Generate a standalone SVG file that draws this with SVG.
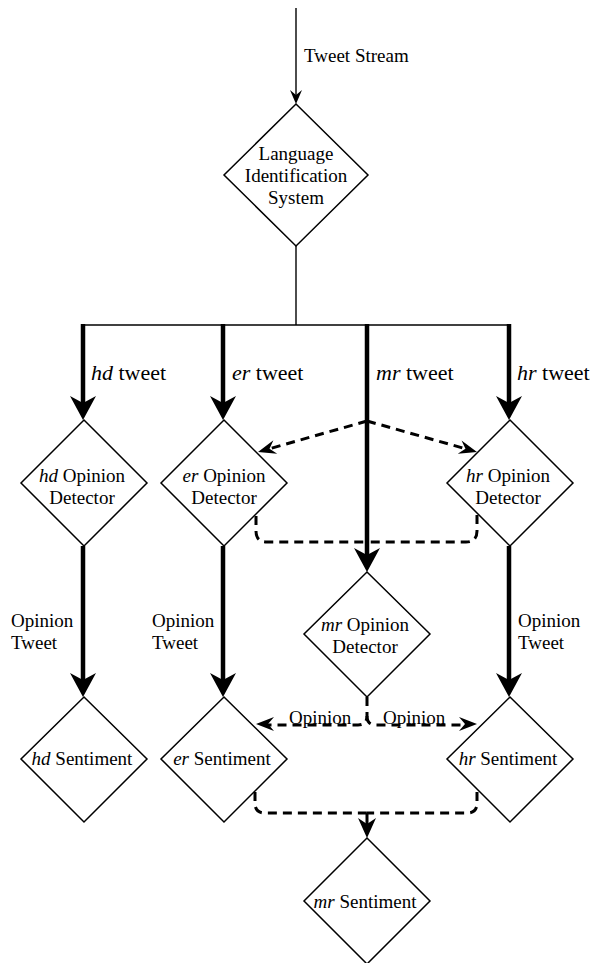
<svg xmlns="http://www.w3.org/2000/svg" xmlns:xlink="http://www.w3.org/1999/xlink" width="593" height="963" viewBox="0 0 593 963">
<style>
text{font-family:'Liberation Serif','DejaVu Serif',serif;font-size:19px;fill:#000}
.big{font-size:22px}
.m{text-anchor:middle}
.it{font-style:italic}
.node{fill:#fff;stroke:#000;stroke-width:1.5}
.thin{fill:none;stroke:#000;stroke-width:1.4}
.thick{fill:none;stroke:#000;stroke-width:4.5}
.dash{fill:none;stroke:#000;stroke-width:3;stroke-dasharray:9 6}
.ah{fill:#000;stroke:none}
</style>
<defs>
<path id="dArrow" d="M0,0 L-18,-7 L-12,0 L-18,7 Z"/>
</defs>
<rect width="593" height="963" fill="#fff"/>
<g id="connectors">
<line class="thin" x1="296" y1="8" x2="296" y2="97"/>
<path class="ah" d="M296,104 L290,90 L296,95 L302,90 Z"/>
<line class="thin" x1="296" y1="246" x2="296" y2="325"/>
<line class="thin" x1="81" y1="325" x2="511" y2="325"/>
<line class="thick" x1="83" y1="324" x2="83" y2="405"/>
<line class="thick" x1="223" y1="324" x2="223" y2="405"/>
<line class="thick" x1="367" y1="324" x2="367" y2="557"/>
<line class="thick" x1="509" y1="324" x2="509" y2="405"/>
<path class="ah" d="M83,420 L70,396 L83,403 L96,396 Z"/>
<path class="ah" d="M223,420 L210,396 L223,403 L236,396 Z"/>
<path class="ah" d="M509,420 L496,396 L509,403 L522,396 Z"/>
<path class="ah" d="M367,572 L354,548 L367,555 L380,548 Z"/>
<line class="thick" x1="83" y1="546" x2="83" y2="685"/>
<line class="thick" x1="223" y1="546" x2="223" y2="685"/>
<line class="thick" x1="509" y1="546" x2="509" y2="685"/>
<path class="ah" d="M83,697 L70,673 L83,680 L96,673 Z"/>
<path class="ah" d="M223,697 L210,673 L223,680 L236,673 Z"/>
<path class="ah" d="M509,697 L496,673 L509,680 L522,673 Z"/>
<path class="dash" d="M367,421 L270,448.6"/>
<path class="dash" d="M367,421 L465,448.6"/>
<use xlink:href="#dArrow" class="ah" transform="translate(258,452) rotate(164.1)"/>
<use xlink:href="#dArrow" class="ah" transform="translate(477,452) rotate(15.7)"/>
<path class="dash" d="M256,516 V531 Q256,542 267,542 H367"/>
<path class="dash" d="M477,515 V531 Q477,542 466,542 H367"/>
<path class="dash" d="M367,697 V716 Q367,725 358,725 H268"/>
<path class="dash" d="M367,716 Q367,725 376,725 H465"/>
<use xlink:href="#dArrow" class="ah" transform="translate(256,724) rotate(180)"/>
<use xlink:href="#dArrow" class="ah" transform="translate(477,724)"/>
<path class="dash" d="M255,792 V803 Q255,813 265,813 H367"/>
<path class="dash" d="M477,792 V803 Q477,813 467,813 H367"/>
<line class="thin" x1="367" y1="813" x2="367" y2="825" style="stroke-width:3"/>
<path class="ah" d="M367,838 L358,818 L367,824 L376,818 Z"/>
<text x="304" y="62">Tweet Stream</text>
<text class="big" x="91" y="380"><tspan class="it">hd</tspan> tweet</text>
<text class="big" x="232" y="380"><tspan class="it">er</tspan> tweet</text>
<text class="big" x="376" y="380"><tspan class="it">mr</tspan> tweet</text>
<text class="big" x="517" y="380"><tspan class="it">hr</tspan> tweet</text>
<text x="11" y="627">Opinion</text>
<text x="11" y="649">Tweet</text>
<text x="152" y="627">Opinion</text>
<text x="152" y="649">Tweet</text>
<text x="518" y="627">Opinion</text>
<text x="518" y="649">Tweet</text>
<text x="289" y="724">Opinion</text>
<text x="383" y="724">Opinion</text>
</g>
<g id="lang">
<path class="node" d="M296,104 L368,175 L296,246 L224,175 Z"/>
<text class="m" x="296" y="160">Language</text>
<text class="m" x="296" y="182">Identification</text>
<text class="m" x="296" y="204">System</text>
</g>
<g id="hd-detector">
<path class="node" d="M84,420 L147,483 L84,546 L21,483 Z"/>
<text class="m" x="82" y="482"><tspan class="it">hd</tspan> Opinion</text>
<text class="m" x="82" y="504">Detector</text>
</g>
<g id="er-detector">
<path class="node" d="M224,420 L287,483 L224,546 L161,483 Z"/>
<text class="m" x="224" y="482"><tspan class="it">er</tspan> Opinion</text>
<text class="m" x="224" y="504">Detector</text>
</g>
<g id="hr-detector">
<path class="node" d="M510,420 L573,483 L510,546 L447,483 Z"/>
<text class="m" x="508" y="482"><tspan class="it">hr</tspan> Opinion</text>
<text class="m" x="508" y="504">Detector</text>
</g>
<g id="mr-detector">
<path class="node" d="M367,572 L430,634 L367,697 L304,634 Z"/>
<text class="m" x="365" y="631"><tspan class="it">mr</tspan> Opinion</text>
<text class="m" x="365" y="653">Detector</text>
</g>
<g id="hd-sentiment">
<path class="node" d="M84,697 L147,759 L84,822 L21,759 Z"/>
<text class="m" x="82" y="765"><tspan class="it">hd</tspan> Sentiment</text>
</g>
<g id="er-sentiment">
<path class="node" d="M224,697 L287,759 L224,822 L161,759 Z"/>
<text class="m" x="222" y="765"><tspan class="it">er</tspan> Sentiment</text>
</g>
<g id="hr-sentiment">
<path class="node" d="M510,697 L573,759 L510,822 L447,759 Z"/>
<text class="m" x="508" y="765"><tspan class="it">hr</tspan> Sentiment</text>
</g>
<g id="mr-sentiment">
<path class="node" d="M367,838 L430,901 L367,964 L304,901 Z"/>
<text class="m" x="365" y="908"><tspan class="it">mr</tspan> Sentiment</text>
</g>
</svg>
